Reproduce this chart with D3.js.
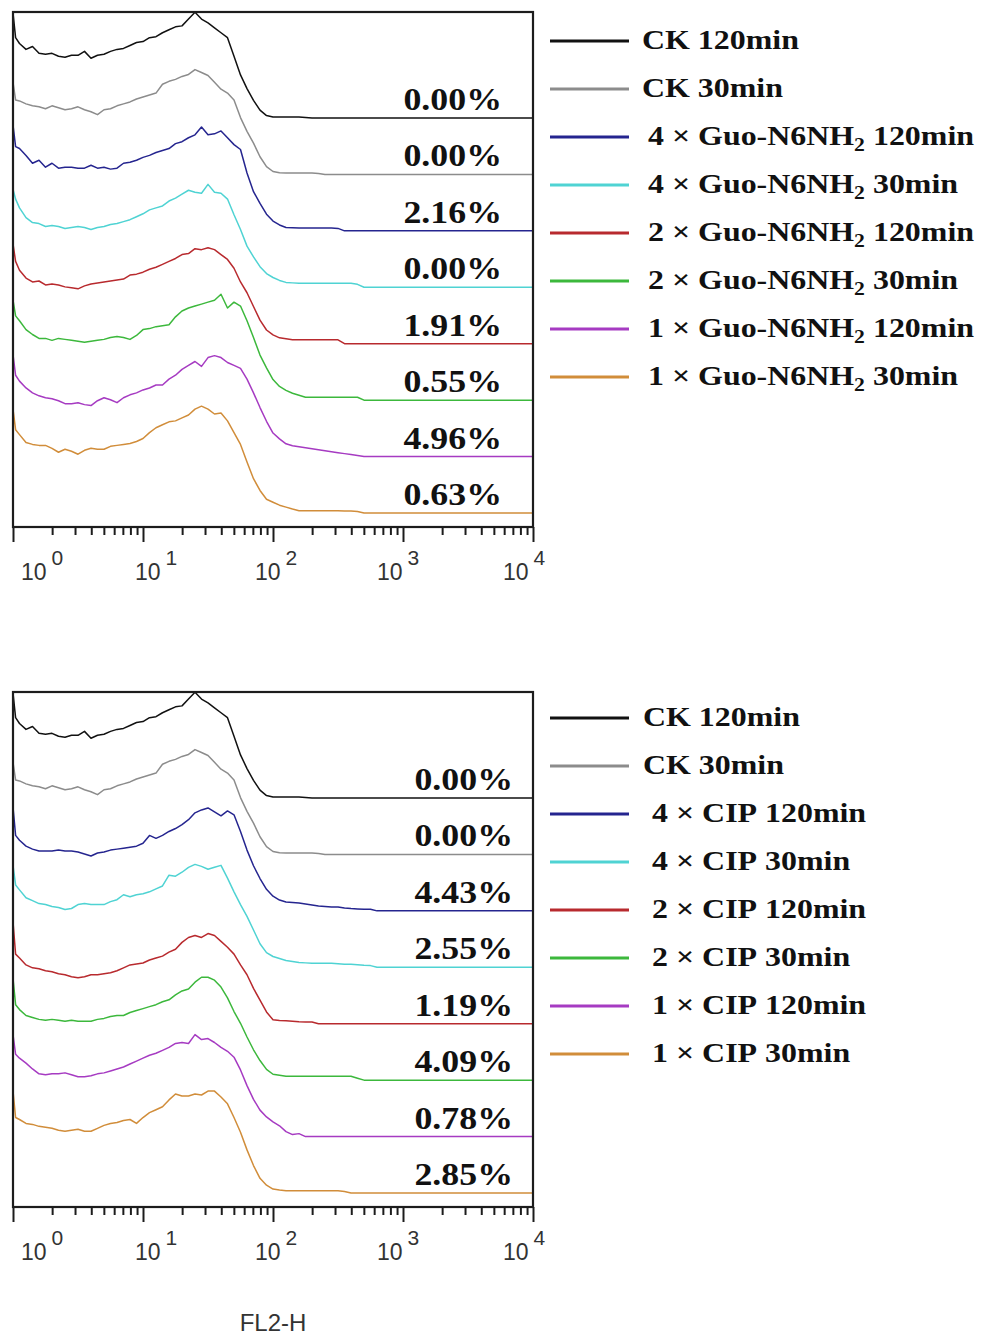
<!DOCTYPE html>
<html><head><meta charset="utf-8">
<script src="https://cdn.jsdelivr.net/npm/d3@7"></script>
<style>body{margin:0;background:#fff}</style>
</head><body><svg id="c" width="984" height="1335"></svg>
<script>
// channel positions (log10 of FL2-H)
const channelLog = [0,0.02,0.05,0.1,0.15,0.2,0.25,0.3,0.35,0.4,
 0.45,0.5,0.55,0.6,0.65,0.7,0.75,0.8,0.85,0.9,
 0.95,1,1.05,1.1,1.15,1.2,1.25,1.3,1.35,1.4,
 1.45,1.5,1.55,1.6,1.65,1.7,1.75,1.8,1.85,1.9,
 1.95,2,2.05,2.1,2.15,2.2,2.25,2.3,2.35,2.4,
 2.45,2.5,2.55,2.6,2.65,2.7,2.75,2.8,3,4];

// histogram counts (relative) per condition
const ck120 = [107,82,76,70,73,66,65,66,63,62,
 64,64,68,61,64,65,68,70,71,74,
 77,78,82,83,87,90,93,94,101,108,
 101,97,92,87,82,63,44,30,18,8,
 2.5,1,1,1,1,1,0.5,0,0,0,
 0,0,0,0,0,0,0,0,0,0];
const ck30 = [94,76,75,72,70,69,67,70,68,66,
 67,69,66,64,61,66,67,70,72,74,
 77,79,81,83,92,95,97,100,102,107,
 104,101,94,87,83,76,58,44,32,18,
 8,3,1.7,1.5,1.5,1.5,1.5,1.5,1,0,
 0,0,0,0,0,0,0,0,0,0];
const guo4x120 = [108,86,84,77,69,72,65,69,64,65,
 65,64,64,67,64,65,63,64,69,70,
 72,75,77,80,82,84,89,91,95,98,
 106,98,99,102,95,88,83,59,40,28,
 17,10,6,3.4,3.1,2.8,2.8,2.8,2.8,2.8,
 2.8,2.5,0,0,0,0,0,0,0,0];
const guo4x30 = [100,90,81,71,66,65,62,63,62,60,
 61,62,61,59,61,62,64,65,67,69,
 72,75,79,81,83,88,91,95,99,97,
 96,105,97,96,90,74,59,42,31,21,
 14,10,7,5,4.5,4,4,4,4,4,
 4,4,4,4,3,0,0,0,0,0];
const guo2x120 = [102,84,75,67,63,64,60,61,60,58,
 57,56,59,61,62,63,64,65,66,70,
 71,73,76,78,81,84,87,91,92,97,
 96,98,96,91,86,77,63,52,38,24,
 14,9,6,5,4,4,4,4,4,4,
 4,4,0,0,0,0,0,0,0,0];
const guo2x30 = [102,86,81,72,67,63,63,61,63,62,
 61,60,59,60,61,62,64,65,64,62,
 66,72,73,75,76,77,85,91,94,96,
 98,100,102,108,94,100,96,81,64,46,
 33,21,14,10,7,5,3,3,3,3,
 3,3,3,3,3,0,0,0,0,0];
const guo1x120 = [104,83,77,70,65,62,60,59,57,54,
 54,55,53,52,57,60,58,55,60,63,
 65,68,70,73,73,79,83,89,93,97,
 92,101,103,101,96,93,90,79,65,50,
 36,24,18,13,11,10,9,8,7,6,
 5,4,3,2,1,0,0,0,0,0];
const guo1x30 = [106,85,80,72,70,69,69,66,62,65,
 63,60,64,66,65,65,68,69,70,71,
 73,76,82,87,90,93,94,97,100,106,
 109,106,101,102,94,82,70,52,35,23,
 14,11,8,6,4,2.4,2.4,2.4,2.4,2.4,
 2.4,2.4,2,2,1.5,0,0,0,0,0];

const cip4x120 = [106,77,72,66,63,61,61,61,62,61,
 61,60,58,56,59,60,62,63,64,65,
 66,69,77,74,77,81,84,88,93,100,
 103,105,101,97,102,98,81,62,46,33,
 22,15,11,9,8.5,8,7,6,5,4.5,
 4,4,3,2.4,2,1.7,1.7,0,0,0];
const cip4x30 = [104,84,79,71,68,65,64,62,61,59,
 60,64,65,64,64,64,67,69,74,72,
 74,75,77,80,83,94,93,97,102,105,
 103,100,102,104,91,77,64,52,38,24,
 15,11,9,7,6,5,4.5,4,4,4,
 4,3.5,3,3,2.5,2,1.7,0,0,0];
const cip2x120 = [104,71,67,60,57,56,54,53,51,50,
 48,47,48,50,50,51,52,54,57,60,
 61,62,65,67,69,73,76,83,88,90,
 88,92,90,84,78,71,60,50,36,24,
 12,4,3.4,3,2.5,2,1.7,1.7,0,0,
 0,0,0,0,0,0,0,0,0,0];
const cip2x30 = [104,77,72,66,64,62,61,62,61,60,
 61,60,60,60,62,63,65,66,66,69,
 71,73,75,77,80,82,87,91,93,100,
 105,105,102,95,84,70,58,44,31,20,
 11,6,5,4,4,4,4,4,4,4,
 4,4,4,4,2,0,0,0,0,0];
const cip1x120 = [104,84,80,75,69,64,63,64,64,65,
 63,61,61,62,64,65,67,69,71,74,
 77,80,83,85,88,91,95,96,95,104,
 99,100,96,91,87,81,68,52,38,27,
 20,15,11,5,2,3,0,0,0,0,
 0,0,0,0,0,0,0,0,0,0];
const cip1x30 = [104,77,75,71,70,68,67,66,64,63,
 64,65,63,63,66,69,71,72,74,75,
 71,77,82,85,88,95,101,99,99,101,
 100,104,104,98,91,77,62,44,28,15,
 8,4,3,2.4,2.4,2.4,2.4,2.4,2.4,2.4,
 2.4,2.4,1.5,0,0,0,0,0,0,0];

const pctGuo = ["0.00%","0.00%","2.16%","0.00%","1.91%","0.55%","4.96%","0.63%"];
const pctCIP = ["0.00%","0.00%","4.43%","2.55%","1.19%","4.09%","0.78%","2.85%"];

const legendDose = ["CK","CK","4 ×","4 ×","2 ×","2 ×","1 ×","1 ×"];
const legendTime = ["120min","30min","120min","30min","120min","30min","120min","30min"];
const drugGuo = ["Guo-N6NH","2"];
const drugCIP = ["CIP",""];

const seriesColors = ["#111111","#8c8c8c","#25258f","#4fd3d3","#b82a2e","#3cb83c","#a63bc2","#d18d3a"];

const majorTicks = [1,10,100,1000,10000];
const tickExponents = ["0","1","2","3","4"];
const axisTitle = "FL2-H";

// ---------------------------------------------------------------
const svg = d3.select("#c");
const x = d3.scaleLog().domain([1,1e4]).range([13,533]);
const h = d3.scaleLinear().domain([0,100]).range([0,98]);
const serif = "'Liberation Serif','Times New Roman',serif";
const sans = "'Liberation Sans',Arial,sans-serif";

const panels = [
  {top:12, series:[ck120,ck30,guo4x120,guo4x30,guo2x120,guo2x30,guo1x120,guo1x30],
   pct:pctGuo, drug:drugGuo, pctRight:502, legTop:41, legX:[642,648]},
  {top:692, series:[ck120,ck30,cip4x120,cip4x30,cip2x120,cip2x30,cip1x120,cip1x30],
   pct:pctCIP, drug:drugCIP, pctRight:513, legTop:718, legX:[643,652]}
];

panels.forEach(p => {
  const g = svg.append("g");
  const base = d3.scaleLinear().domain([0,7]).range([p.top+106, p.top+501]);
  const axisY = p.top + 515;

  // curves
  p.series.forEach((vals, i) => {
    const pts = channelLog.map((L,k) => [L, vals[k]]).filter(d => d[1] !== undefined);
    const line = d3.line().x(d => x(Math.pow(10,d[0]))).y(d => base(i) - h(d[1]));
    g.append("path").attr("d", line(pts)).attr("fill","none")
      .attr("stroke", seriesColors[i]).attr("stroke-width",1.5).attr("stroke-linejoin","round");
  });

  // frame
  g.append("rect").attr("x",x(1)).attr("y",p.top).attr("width",x(1e4)-x(1)).attr("height",axisY-p.top)
    .attr("fill","none").attr("stroke","#1c1c1c").attr("stroke-width",2.2);

  // axis ticks
  const minor = x.ticks().filter(v => majorTicks.indexOf(v) < 0);
  const axMinor = g.append("g").attr("transform",`translate(0,${axisY})`)
    .call(d3.axisBottom(x).tickValues(minor).tickSize(8).tickSizeOuter(0).tickFormat(""));
  const axMajor = g.append("g").attr("transform",`translate(0,${axisY})`)
    .call(d3.axisBottom(x).tickValues(majorTicks).tickSize(15).tickSizeOuter(0).tickFormat(""));
  [axMinor, axMajor].forEach(a => {
    a.select(".domain").remove();
    a.selectAll("line").attr("stroke","#1c1c1c").attr("stroke-width",2);
  });

  // tick labels
  const nudge = [20,4,-6,-14,-18];
  majorTicks.forEach((v,i) => {
    const cx = x(v) + nudge[i];
    const t = g.append("text").attr("x", cx - 12).attr("y", axisY + 53)
      .attr("font-family", sans).attr("font-size", 23).attr("fill","#333");
    t.append("tspan").text("10");
    t.append("tspan").attr("dx",5).attr("dy",-15).attr("font-size",21).text(tickExponents[i]);
  });

  // percent labels
  p.pct.forEach((s,i) => {
    g.append("text").attr("transform",`translate(${p.pctRight},${base(i)-8}) scale(1.12,1)`)
      .attr("text-anchor","end").attr("font-family",serif).attr("font-weight","bold")
      .attr("font-size",32).attr("fill","#111").text(s);
  });

  // legend
  legendDose.forEach((dose,i) => {
    const ly = p.legTop + i*48;
    g.append("line").attr("x1",550).attr("x2",629).attr("y1",ly).attr("y2",ly)
      .attr("stroke",seriesColors[i]).attr("stroke-width",3);
    const isCK = dose === "CK";
    const t = g.append("text").attr("transform",`translate(${isCK?p.legX[0]:p.legX[1]},${ly+8}) scale(1.14,1)`)
      .attr("font-family",serif).attr("font-weight","bold").attr("font-size",28).attr("fill","#111");
    if (isCK) {
      t.text(dose + " " + legendTime[i]);
    } else {
      t.append("tspan").text(dose + " " + p.drug[0]);
      if (p.drug[1]) {
        t.append("tspan").attr("font-size",19).attr("dy",6).text(p.drug[1]);
        t.append("tspan").attr("dy",-6).text(" " + legendTime[i]);
      } else {
        t.append("tspan").text(" " + legendTime[i]);
      }
    }
  });
});

svg.append("text").attr("x", x(100)).attr("y", 1331).attr("text-anchor","middle")
  .attr("font-family",sans).attr("font-size",24).attr("fill","#333").text(axisTitle);
</script>
</body></html>
